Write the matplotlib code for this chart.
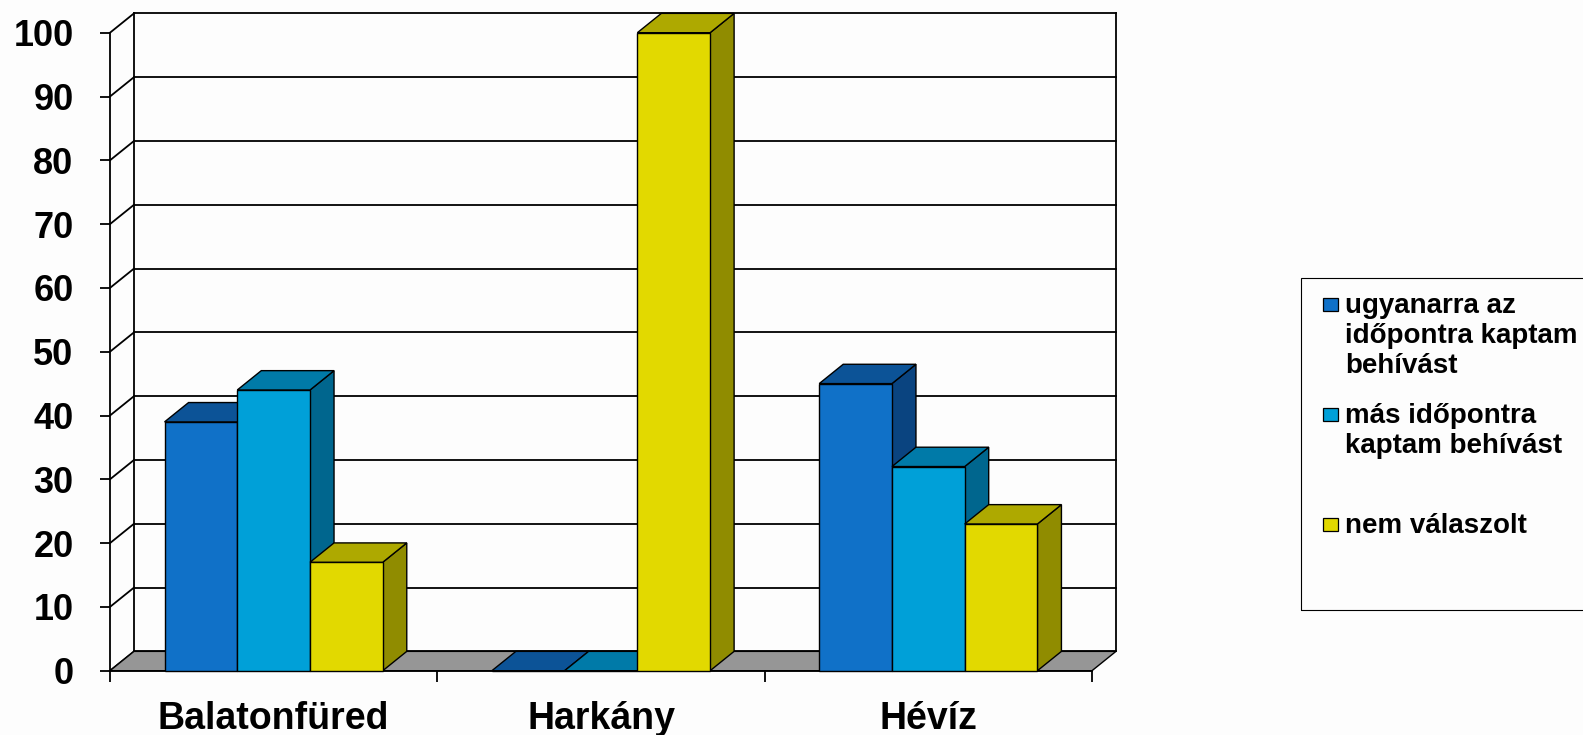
import matplotlib
matplotlib.use("Agg")
import matplotlib.pyplot as plt
from matplotlib.patches import Rectangle

# data
categories = ["Balatonfüred", "Harkány", "Hévíz"]
series_labels = ["ugyanarra az\nidőpontra kaptam\nbehívást",
                 "más időpontra\nkaptam behívást",
                 "nem válaszolt"]
ugyanarra = [39, 0, 45]
mas_idopont = [44, 0, 32]
nem_valaszolt = [17, 100, 23]
yticks = list(range(0, 101, 10))

values = [ugyanarra, mas_idopont, nem_valaszolt]
front_cols = ["#1071c8", "#00a0d8", "#e2d900"]
top_cols = ["#0c5397", "#007aa8", "#aea900"]
side_cols = ["#0a4480", "#00668e", "#908c00"]

W, H = 1583, 735
plt.rcParams["font.family"] = ["Liberation Sans", "DejaVu Sans"]
plt.rcParams["font.weight"] = "bold"

fig = plt.figure(figsize=(W / 100, H / 100), dpi=100, facecolor="#fdfdfd")
ax = fig.add_axes([110 / W, (H - 670.7) / H, 982 / W, 638 / H])
ax.set_facecolor("none")
ax.set_xlim(0, len(categories))
ax.set_ylim(0, 100)

DX, DY = 0.0733, 3.03   # depth of the 3d box in data units
n = len(categories)
lw = 1.3

# back wall + side wall grid
for v in yticks:
    ax.plot([DX, n + DX], [v + DY, v + DY], color="black", lw=lw, zorder=1, clip_on=False)
    ax.plot([0, DX], [v, v + DY], color="black", lw=lw, zorder=1, clip_on=False)
ax.plot([DX, DX], [DY, 100 + DY], color="black", lw=lw, zorder=1, clip_on=False)
ax.plot([n + DX, n + DX], [DY, 100 + DY], color="black", lw=lw, zorder=1, clip_on=False)

# floor
ax.fill([0, n, n + DX, DX], [0, 0, DY, DY], facecolor="#969696", edgecolor="black",
        lw=1.0, zorder=2, clip_on=False)

# bars
w = 1 / 4.5
z = 3
for i in range(n):
    for j, vals in enumerate(values):
        v = vals[i]
        x0 = i + 0.75 * w + j * w
        ax.fill([x0 + w, x0 + w + DX, x0 + w + DX, x0 + w], [0, DY, v + DY, v],
                facecolor=side_cols[j], edgecolor="black", lw=1.0, zorder=z, clip_on=False)
        ax.bar(x0, v, w, align="edge", color=front_cols[j], edgecolor="black",
               lw=1.0, zorder=z, clip_on=False)
        ax.fill([x0, x0 + w, x0 + w + DX, x0 + DX], [v, v, v + DY, v + DY],
                facecolor=top_cols[j], edgecolor="black", lw=1.0, zorder=z, clip_on=False)
        z += 0.01

# axes styling
for s in ["top", "right"]:
    ax.spines[s].set_visible(False)
for s in ["left", "bottom"]:
    ax.spines[s].set_linewidth(lw)
    ax.spines[s].set_zorder(2.5)
ax.set_yticks(yticks)
ax.set_yticklabels([str(t) for t in yticks], fontsize=26, fontweight="bold")
ax.tick_params(axis="y", length=7.2, width=lw, pad=19)
ax.set_xticks(range(n + 1))
ax.set_xticklabels([""] * (n + 1))
ax.tick_params(axis="x", which="major", length=8, width=lw)
ax.set_xticks([i + 0.5 for i in range(n)], minor=True)
ax.set_xticklabels(categories, minor=True, fontsize=27, fontweight="bold")
ax.tick_params(axis="x", which="minor", length=0, pad=22)

# legend drawn by hand
def fx(px):
    return px / W

def fy(py):
    return (H - py) / H

fig.add_artist(Rectangle((fx(1301), fy(610)), fx(1600) - fx(1301), fy(278) - fy(610),
                         transform=fig.transFigure, fill=False, edgecolor="black", lw=0.8))
first_baselines = [313, 423, 533]
line_step = 30
for j, label in enumerate(series_labels):
    b0 = first_baselines[j]
    fig.add_artist(Rectangle((fx(1323), fy(b0 - 2)), fx(15), 13 / H,
                             transform=fig.transFigure, facecolor=front_cols[j],
                             edgecolor="black", lw=0.9))
    for k, line in enumerate(label.split("\n")):
        fig.text(fx(1345), fy(b0 + k * line_step), line, fontsize=20,
                 fontweight="bold", va="baseline", ha="left")

fig.savefig("out.png", dpi=100, facecolor=fig.get_facecolor())
